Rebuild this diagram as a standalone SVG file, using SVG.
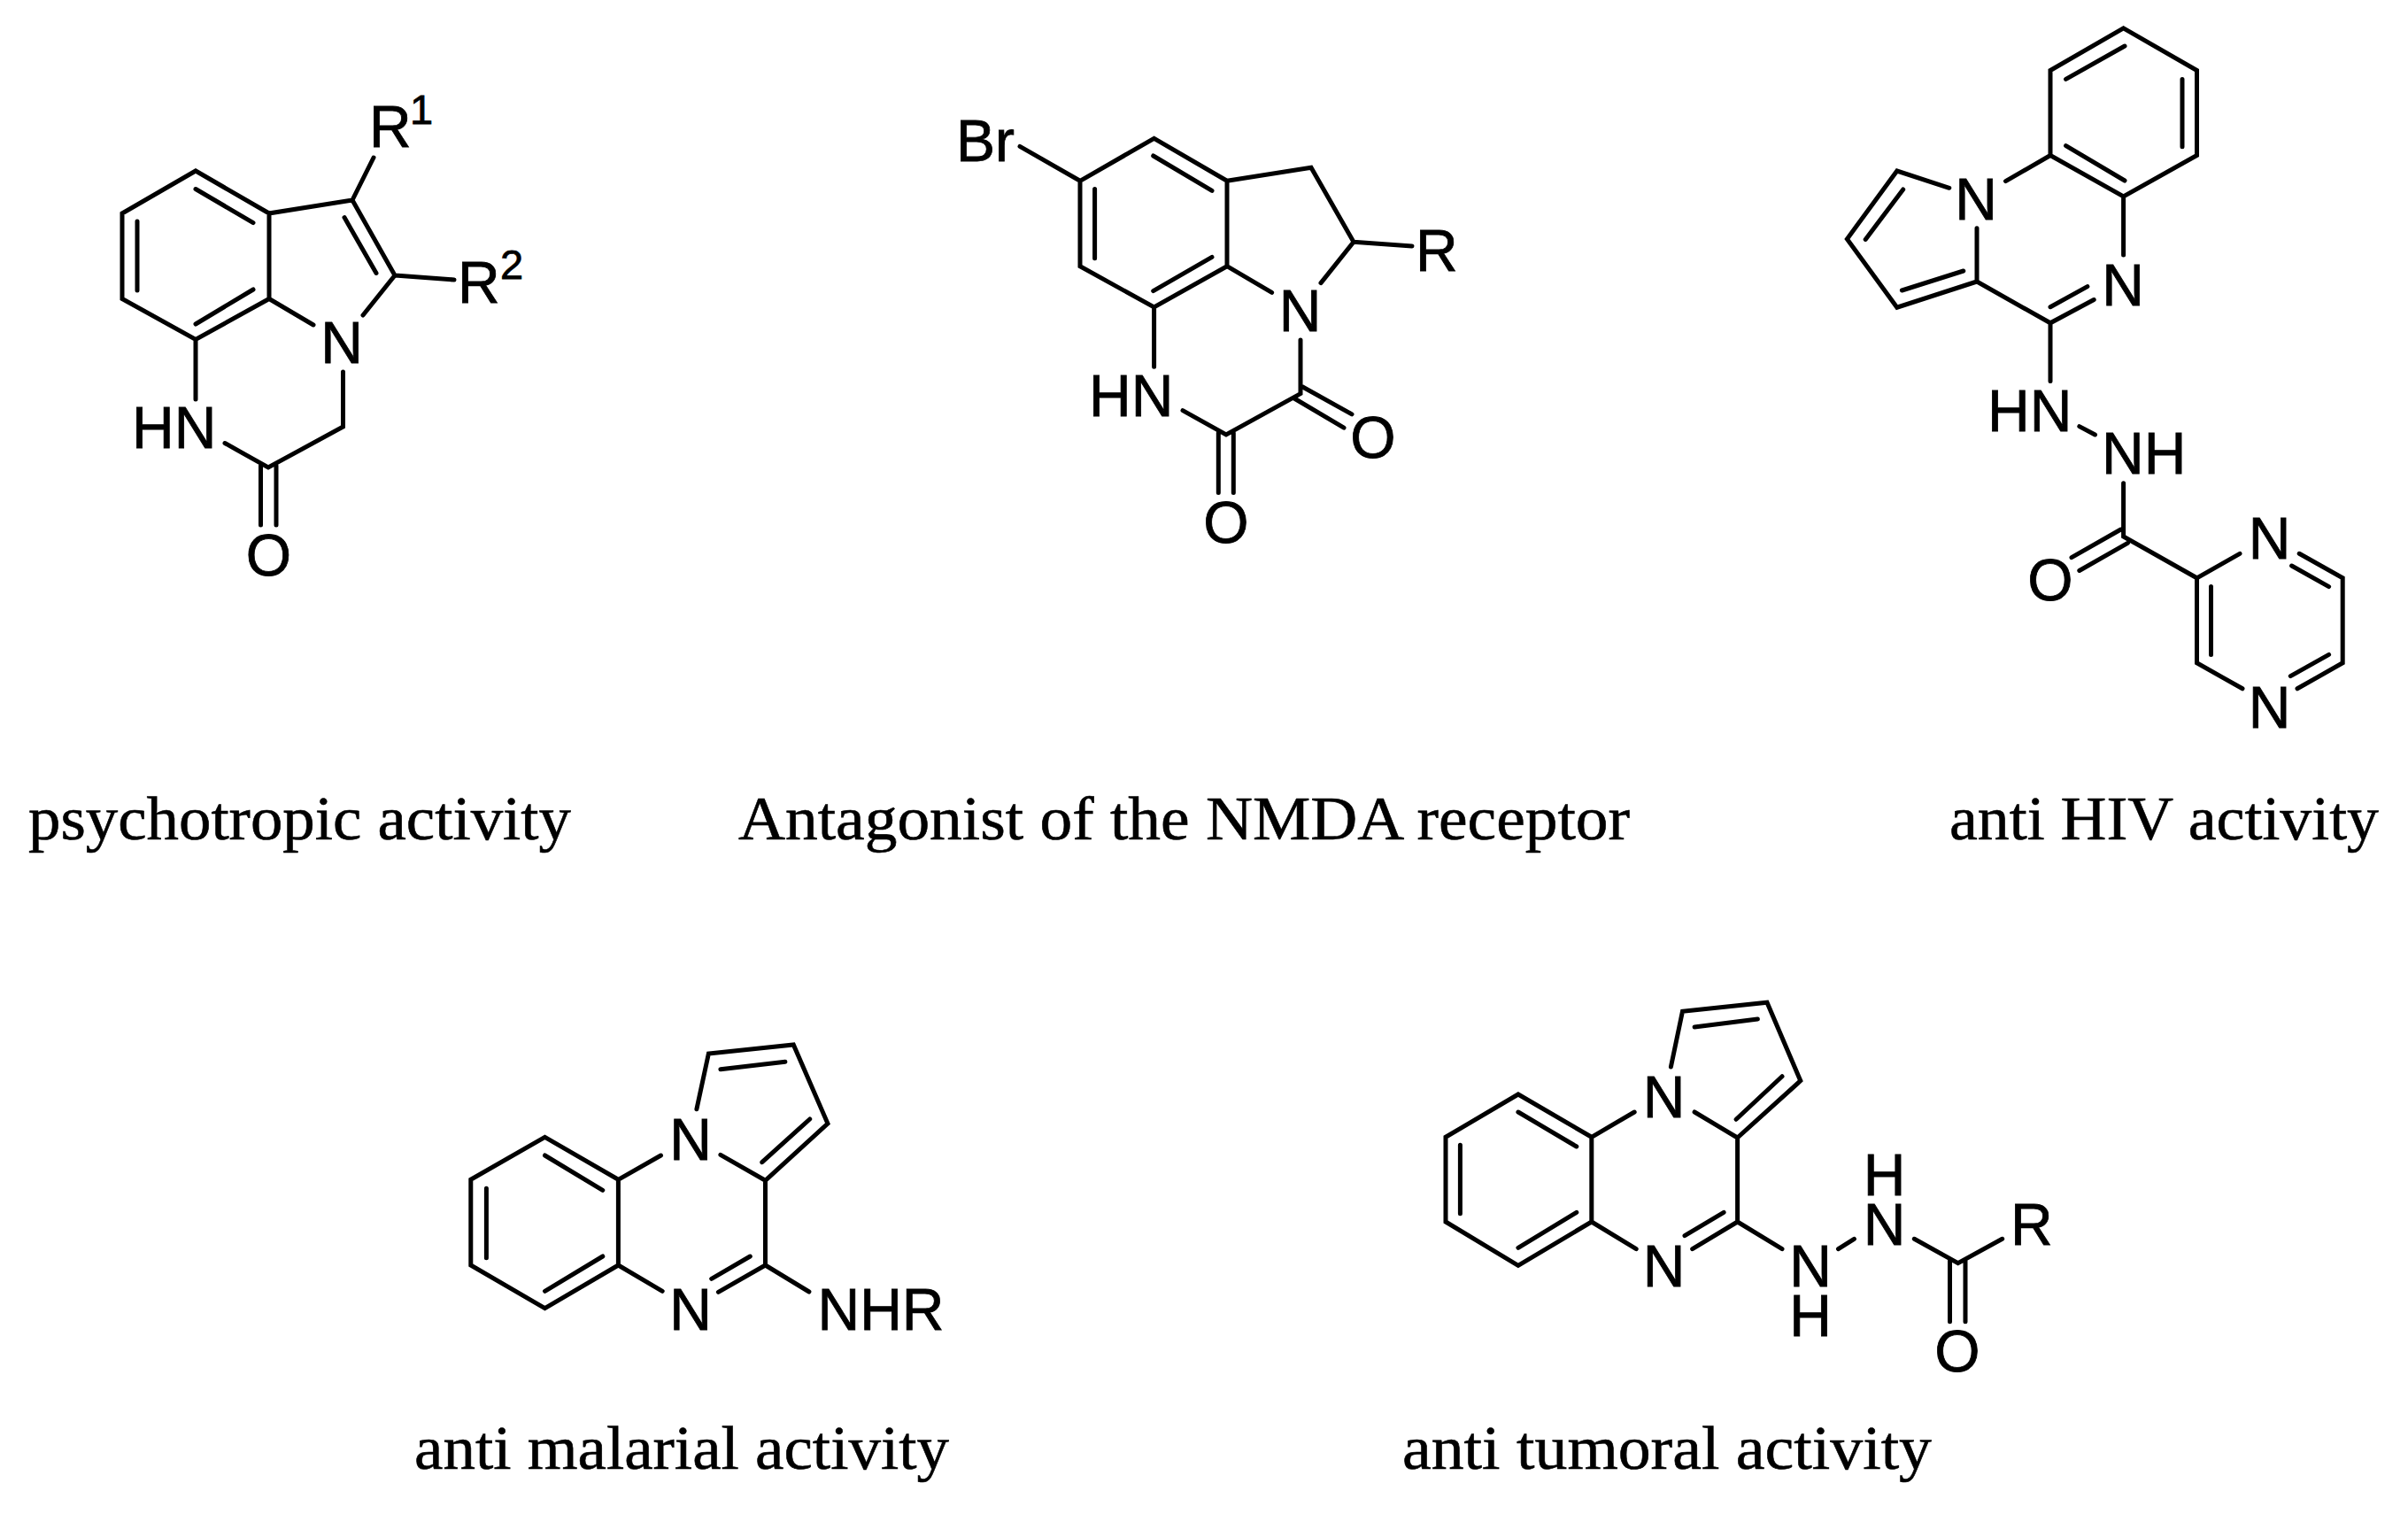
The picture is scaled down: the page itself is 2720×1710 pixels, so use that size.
<svg xmlns="http://www.w3.org/2000/svg" width="2720" height="1710" viewBox="0 0 2720 1710">
<style>
.b{fill:none;stroke:#000;stroke-width:5;stroke-linecap:round;stroke-linejoin:miter}
.a{font-family:"Liberation Sans",Arial,sans-serif;font-size:66px;fill:#000;stroke:#000;stroke-width:.8}
.m{text-anchor:middle}
.s{font-size:47px}
.c{font-family:"Liberation Serif","Times New Roman",serif;font-size:70px;fill:#000;stroke:#000;stroke-width:.6}
</style>
<rect width="2720" height="1710" fill="#fff"/>
<g id="connectors">
<path class="b" d="M254 500.5L303 528L387.5 482V420M354 367L304 337.5V241L398 226L446 311L410 356M446 311L513 316M398 226L422 178M304 241L221 193L138 241V337.5L221 383.4L304 337.5M221 383.4V451M221 213.5L286 251.6M155 250V328M286 327L221 366M389 245.6L425 308.5M294.5 526V593M312 526V593"/>
<path class="b" d="M1152 165.4L1220 204.3V300.7L1303.6 347L1386 300.7V204.3L1303.6 156.4L1220 204.3M1386 204.3L1481 189.3L1529 273.2L1492 319.6M1529 273.2L1595 277.9M1386 300.7L1436.6 330.4M1303.6 347V414.3M1336 463.6L1385 491L1469 444.6V384M1302.7 176L1369 215.4M1236.6 213.6V291.8M1369 290.4L1302.7 328.6M1471 436.8L1527 467.9M1462 450L1518 483.2M1376.3 489V556.4M1393.3 489V556.4"/>
<path class="b" d="M2398.6 31.8L2481.5 79.5V175.5L2398.6 222L2316 175.5V79.5ZM2316 175.5L2265.5 204.6M2398.6 222V288M2400 52L2333.6 89.4M2465 89.4V165.7M2400 204L2333.6 164.6M2365.2 338.5L2316 364.8L2233 318V257.8M2357.9 323.6L2316 346.7M2233 318L2142.8 347.2L2086.4 269.9L2142.8 193L2201.8 212.3M2217.8 306L2148.4 328M2149.7 214L2107.2 270.4M2316 364.8V430.6M2348.8 481.6L2366.5 491M2398.6 545.8V606L2481.5 652.8L2530 625.3M2395.6 598L2340 629.7M2403.4 613.3L2348.8 644.5M2597.2 625.3L2646.2 652.8V748.8L2595 777.8M2533 777.8L2481.5 748.8V652.8M2588.6 639L2630.6 662.6M2497.5 662.6V739.4M2630.6 739.4L2587.3 763.6"/>
<path class="b" d="M615.5 1284.3L698.4 1332.3V1429L615.5 1477.7L531.8 1429V1332.3ZM615.5 1305L680.8 1344.3M549.4 1342.3V1420.7M680.8 1419L615.5 1458.3M698.4 1332.3L746.5 1305M813.9 1304.3L864.5 1333.3V1429L913.9 1459M698.4 1429L748.2 1458.3M811.4 1459.3L864.5 1429M803.7 1444.3L847.3 1419M864.5 1333.3L935 1269L896.3 1180L800.4 1190L786.9 1252.7M860.8 1312.7L914.7 1264M813.9 1207.7L886.9 1199.3"/>
<path class="b" d="M1714.9 1236L1797.8 1284.3V1380L1714.9 1429.3L1633 1380V1284.3ZM1714.9 1256L1780.8 1295M1649.4 1293.3V1370.7M1780.8 1369.3L1714.9 1409.3M1797.8 1284.3L1846.2 1256M1914.1 1256L1962.6 1285V1380L2013 1410.7M1797.8 1380L1848.2 1410.7M1911.7 1410.7L1962.6 1380M1903 1395.7L1947.1 1369.3M1962.6 1285L2033.8 1220.7L1996 1132.3L1900.5 1142.3L1887.4 1205M1961.1 1264.3L2013 1215.7M1914.1 1160L1985.4 1151M2076.5 1410.7L2094.4 1399.3M2162.3 1399.3L2211.7 1426.7L2261.7 1399.3M2202.5 1424V1492.7M2220 1424V1492.7"/>
</g>
<g id="mol-psychotropic">
<text class="a" x="417" y="166">R</text><text class="a s" x="463" y="140">1</text>
<text class="a" x="517" y="342">R</text><text class="a s" x="565" y="315">2</text>
<text class="a m" x="386" y="410">N</text>
<text class="a" x="149" y="506.4">HN</text>
<text class="a m" x="303.5" y="650">O</text>
<text class="c" x="32" y="948" textLength="613" lengthAdjust="spacingAndGlyphs">psychotropic activity</text>
</g>
<g id="mol-nmda">
<text class="a" x="1080" y="182">Br</text>
<text class="a" x="1599" y="306.4">R</text>
<text class="a m" x="1468.5" y="374.3">N</text>
<text class="a" x="1230" y="470.4">HN</text>
<text class="a m" x="1551" y="517">O</text>
<text class="a m" x="1385" y="613">O</text>
<text class="c" x="834" y="948" textLength="1007" lengthAdjust="spacingAndGlyphs">Antagonist of the NMDA receptor</text>
</g>
<g id="mol-hiv">
<text class="a m" x="2232" y="248">N</text>
<text class="a m" x="2398" y="344.5">N</text>
<text class="a" x="2245" y="487">HN</text>
<text class="a" x="2374" y="535">NH</text>
<text class="a m" x="2316" y="678">O</text>
<text class="a m" x="2563.5" y="631">N</text>
<text class="a m" x="2563.5" y="821.7">N</text>
<text class="c" x="2202" y="948" textLength="485" lengthAdjust="spacingAndGlyphs">anti HIV activity</text>
</g>
<g id="mol-malarial">
<text class="a m" x="780" y="1310">N</text>
<text class="a m" x="780" y="1502.3">N</text>
<text class="a" x="923.5" y="1502.3">NHR</text>
<text class="c" x="468" y="1659" textLength="604" lengthAdjust="spacingAndGlyphs">anti malarial activity</text>
</g>
<g id="mol-tumoral">
<text class="a m" x="1879.5" y="1262.3">N</text>
<text class="a m" x="1879.5" y="1453.3">N</text>
<text class="a m"><tspan x="2045" y="1453.3">N</tspan><tspan x="2045" y="1509.3">H</tspan></text>
<text class="a m"><tspan x="2128.6" y="1350">H</tspan><tspan x="2128.6" y="1406">N</tspan></text>
<text class="a" x="2271" y="1406">R</text>
<text class="a m" x="2211" y="1549">O</text>
<text class="c" x="1584" y="1659" textLength="598" lengthAdjust="spacingAndGlyphs">anti tumoral activity</text>
</g>
</svg>
